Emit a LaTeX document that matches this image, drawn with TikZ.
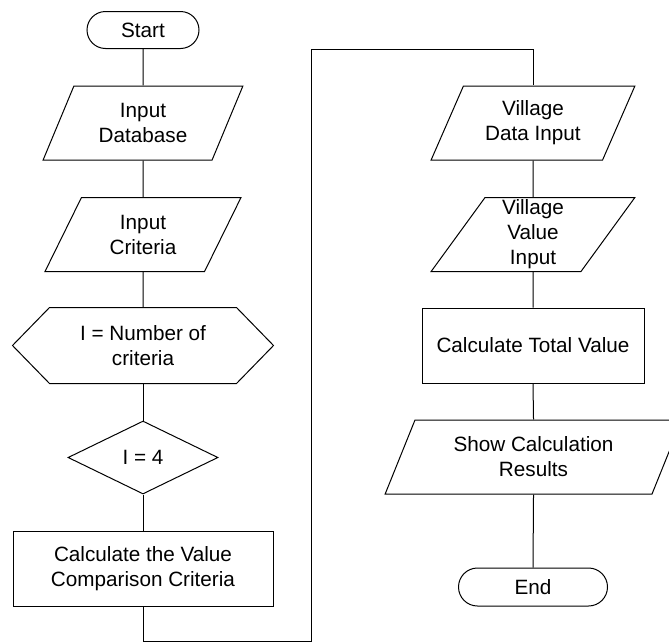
\documentclass[tikz,border=0pt]{standalone}
\usepackage{fontspec}
\setmainfont{Liberation Sans}
\usepackage{tikz}
\usetikzlibrary{calc}
\usetikzlibrary{shapes.geometric}
\usetikzlibrary{shapes.misc}

\begin{document}
\begin{tikzpicture}[x=1pt, y=-1pt, line width=1pt,
    every node/.style={font=\fontsize{20.7}{25}\selectfont, align=center, inner sep=0pt},
    term/.style={draw, rounded rectangle, minimum height=37pt},
    io/.style={draw, trapezium, trapezium left angle=63.4, trapezium right angle=116.6, trapezium stretches=true, minimum height=74pt},
    proc/.style={draw, rectangle, minimum height=75pt},
    dec/.style={draw, diamond, minimum width=150pt, minimum height=73pt}]
        \useasboundingbox (0,0) rectangle (669,643);
        \node[term, minimum width=112pt] (start) at (143,30){Start};
        \node[io, minimum width=200pt] (db) at (143,123){Input\\Database};
        \node[io, minimum width=196pt] (crit) at (143,234.5){Input\\Criteria};
        \node[minimum width=260pt, minimum height=75pt] (num) at (143,345.5){I = Number of\\criteria};
        \draw (num.west) -- ($(num.north west)+(37,0)$) -- ($(num.north east)+(-37,0)$) -- (num.east) -- ($(num.south east)+(-37,0)$) -- ($(num.south west)+(37,0)$) -- cycle;
        \node[dec] (four) at (143,457.5){I = 4};
        \node[proc, minimum width=260pt] (cmp) at (143,568.5){Calculate the Value\\Comparison Criteria};
        \node[io, minimum width=204pt] (vdata) at (533,123){Village\\Data Input};
        \node[io, minimum width=204pt] (vval) at (533,234.5){Village\\Value\\Input};
        \node[proc, minimum width=222pt] (total) at (533,345.5){Calculate Total Value};
        \node[io, minimum width=297pt] (show) at (533.5,457){Show Calculation\\Results};
        \node[term, minimum width=149pt, minimum height=38pt] (end) at (533,587){End};
        \coordinate (b1) at (311,641);
        \coordinate (t1) at (311,49);
        \draw (start.south) -- (db.north);
        \draw (db.south) -- (crit.north);
        \draw (crit.south) -- (num.north);
        \draw (num.south) -- (four.north);
        \draw (four.south) -- (cmp.north);
        \draw (cmp.south) |- (b1) -- (t1) -| (vdata.north);
        \draw (vdata.south) -- (vval.north);
        \draw (vval.south) -- (total.north);
        \draw (total.south) -- (show.north);
        \draw (show.south) -- (end.north);
\end{tikzpicture}
\end{document}
